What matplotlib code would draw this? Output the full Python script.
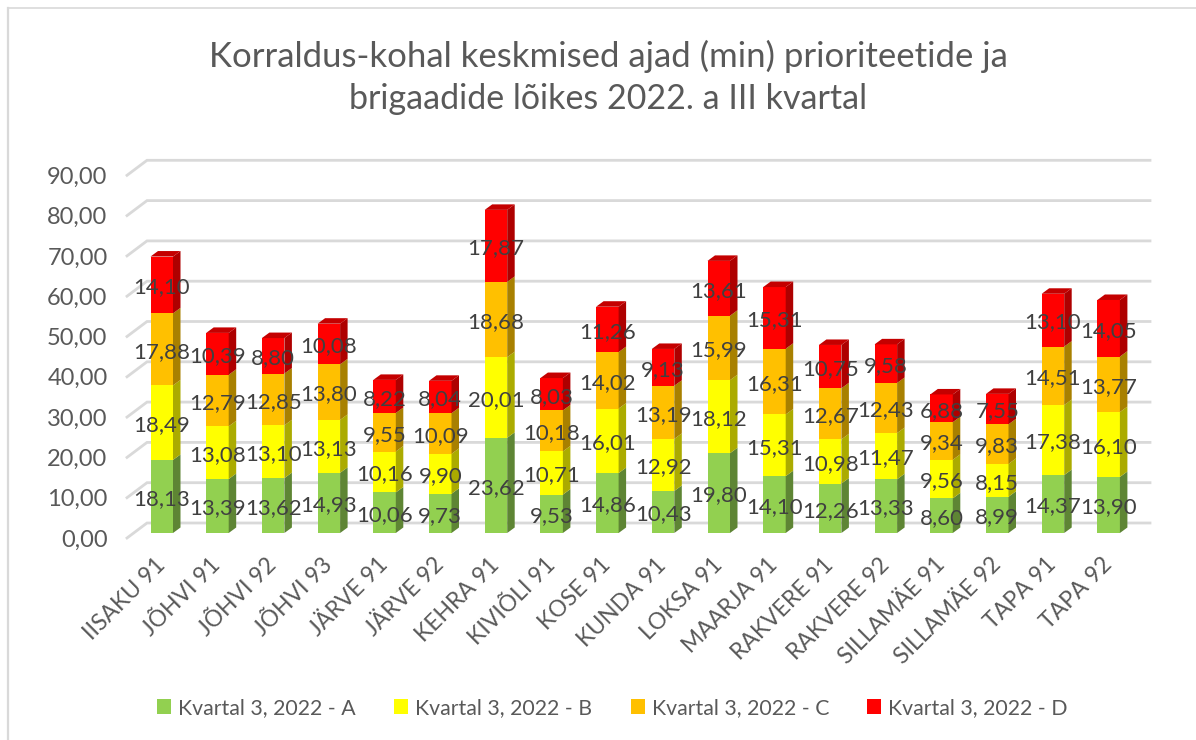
import matplotlib
matplotlib.use("Agg")
import matplotlib.pyplot as plt
from matplotlib.lines import Line2D
from matplotlib.patches import Polygon, Rectangle

plt.rcParams['font.family'] = ['Lato', 'DejaVu Sans']

# values
brigades = ["IISAKU 91", "JÕHVI 91", "JÕHVI 92", "JÕHVI 93", "JÄRVE 91", "JÄRVE 92", "KEHRA 91",
            "KIVIÕLI 91", "KOSE 91", "KUNDA 91", "LOKSA 91", "MAARJA 91", "RAKVERE 91", "RAKVERE 92",
            "SILLAMÄE 91", "SILLAMÄE 92", "TAPA 91", "TAPA 92"]
prio_a = [18.13, 13.39, 13.62, 14.93, 10.06, 9.73, 23.62, 9.53, 14.86, 10.43, 19.80, 14.10, 12.26, 13.33, 8.60, 8.99, 14.37, 13.90]
prio_b = [18.49, 13.08, 13.10, 13.13, 10.16, 9.90, 20.01, 10.71, 16.01, 12.92, 18.12, 15.31, 10.98, 11.47, 9.56, 8.15, 17.38, 16.10]
prio_c = [17.88, 12.79, 12.85, 13.80, 9.55, 10.09, 18.68, 10.18, 14.02, 13.19, 15.99, 16.31, 12.67, 12.43, 9.34, 9.83, 14.51, 13.77]
prio_d = [14.10, 10.39, 8.80, 10.08, 8.22, 8.04, 17.87, 8.03, 11.26, 9.13, 13.61, 15.31, 10.75, 9.58, 6.88, 7.55, 13.10, 14.05]
series_names = ["Kvartal 3, 2022 - A", "Kvartal 3, 2022 - B", "Kvartal 3, 2022 - C", "Kvartal 3, 2022 - D"]
y_ticks = [0, 10, 20, 30, 40, 50, 60, 70, 80, 90]

series = [prio_a, prio_b, prio_c, prio_d]
front_cols = ["#92D050", "#FFFF00", "#FFC000", "#FF0000"]
side_cols = ["#5E8534", "#ABAB00", "#A88000", "#AE0000"]

W, H = 1196, 740
fig = plt.figure(figsize=(W / 100, H / 100), dpi=100)

# chart frame, only top and left show in the screenshot
fig.add_artist(Line2D([8 / W, 8 / W], [0, 1 - 8 / H], color="#D9D9D9", lw=1.6))
fig.add_artist(Line2D([8 / W, 1], [1 - 8 / H, 1 - 8 / H], color="#D9D9D9", lw=1.2))

# pixel scales of the chart area
px_x = 55.7
px_y = 4.03
ax = fig.add_axes([127 / W, (H - 538) / H, (1150 - 127) / W, (538 - 130) / H])
ax.set_xlim((127 - 161.75) / px_x, (1150 - 161.75) / px_x)
ax.set_ylim(-5 / px_y, 403 / px_y)
ax.set_facecolor("none")
for s in ax.spines.values():
    s.set_visible(False)

# fake 3D: floor and wall gridlines
front_off = -5 / px_y
back_off = 10 / px_y
x_left, x_back = ax.get_xlim()[0], ax.get_xlim()[0] + 20 / px_x
x_right = ax.get_xlim()[1]
for v in y_ticks:
    ax.plot([x_left, x_back, x_right], [v + front_off, v + back_off, v + back_off],
            color="#D9D9D9", lw=2, zorder=1, clip_on=False, solid_joinstyle="miter")

# bars with side and top faces
bar_w = 22.5 / px_x
dx = 7.5 / px_x
dy = 5.5 / px_y
for i in range(len(brigades)):
    bottom = 0
    for k, vals in enumerate(series):
        v = vals[i]
        x1 = i + bar_w / 2
        ax.bar(i, v, bar_w, bottom=bottom, color=front_cols[k], zorder=3)
        ax.add_patch(Polygon([(x1, bottom), (x1 + dx, bottom + dy), (x1 + dx, bottom + v + dy), (x1, bottom + v)],
                             closed=True, fc=side_cols[k], ec="none", zorder=3))
        bottom += v
    x0 = i - bar_w / 2
    ax.add_patch(Polygon([(x0, bottom), (x0 + dx, bottom + dy), (x0 + bar_w + dx, bottom + dy), (x0 + bar_w, bottom)],
                         closed=True, fc="#C40000", ec="none", zorder=3))

# data labels
for i in range(len(brigades)):
    bottom = 0
    for vals in series:
        v = vals[i]
        ax.text(i, bottom + v / 2 - 0.6, f"{v:.2f}".replace(".", ","), ha="center", va="center",
                fontsize=16, color="#404040", zorder=5, clip_on=False)
        bottom += v

ax.set_yticks([v + front_off for v in y_ticks])
ax.set_yticklabels([f"{v:.2f}".replace(".", ",") for v in y_ticks], fontsize=17, color="#595959")
ax.set_xticks(range(len(brigades)))
ax.set_xticklabels(brigades, rotation=45, ha="right", va="center", rotation_mode="anchor",
                   fontsize=16.5, color="#595959")
ax.tick_params(axis="x", length=0, pad=17)
ax.tick_params(axis="y", length=0, pad=14)

fig.text(608 / W, 1 - 56 / H, "Korraldus-kohal keskmised ajad (min) prioriteetide ja", ha="center", va="center",
         fontsize=25, color="#595959")
fig.text(608 / W, 1 - 99 / H, "brigaadide lõikes 2022. a III kvartal", ha="center", va="center",
         fontsize=24.5, color="#595959")

# legend
handles = [Rectangle((0, 0), 1, 1, fc=c) for c in front_cols]
fig.legend(handles, series_names, ncol=4, loc="center", bbox_to_anchor=(612.5 / W, 1 - 708 / H), frameon=False,
           fontsize=15.3, labelcolor="#595959", handlelength=0.66, handleheight=0.66, handletextpad=0.33,
           columnspacing=1.8, borderpad=0)

fig.savefig("out.png", dpi=100)
